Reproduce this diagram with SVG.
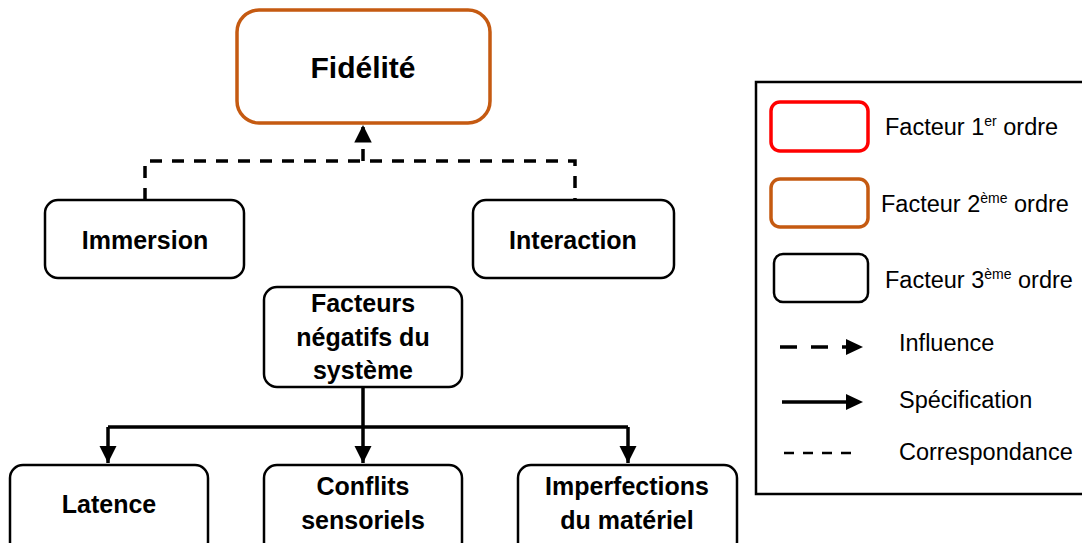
<svg xmlns="http://www.w3.org/2000/svg" width="1082" height="543" viewBox="0 0 1082 543">
<style>
.node{fill:#fff;stroke:#000;stroke-width:2.5}
.t{font-family:"Liberation Sans",Arial,sans-serif;font-weight:bold;font-size:25px;fill:#000;text-anchor:middle}
.big{font-size:30px}
.lg{font-family:"Liberation Sans",Arial,sans-serif;font-size:23.5px;fill:#000}
.sup{font-size:14px}
.dash{fill:none;stroke:#000;stroke-width:3.5;stroke-dasharray:12 10}
.solid{fill:none;stroke:#000;stroke-width:3.5}
</style>
<defs>
<marker id="ah" viewBox="0 0 10 10" refX="10" refY="5" markerWidth="5" markerHeight="5" markerUnits="strokeWidth" orient="auto">
<path d="M0,0 L10,5 L0,10 Z" fill="#000"/>
</marker>
</defs>
<rect width="1082" height="543" fill="#fff"/>
<g id="connectors">
<path class="dash" d="M145,200 V161 H575 V200"/>
<path class="dash" d="M363,161 V125" stroke-dasharray="12 6" marker-end="url(#ah)"/>
<path class="solid" d="M363,388 V427"/>
<path class="solid" d="M108,427 H628"/>
<path class="solid" d="M108,427 V463" marker-end="url(#ah)"/>
<path class="solid" d="M363,427 V463" marker-end="url(#ah)"/>
<path class="solid" d="M628,427 V463" marker-end="url(#ah)"/>
</g>
<g id="fidelite">
<rect x="237" y="10" width="253" height="113" rx="22" fill="#fff" stroke="#C55A11" stroke-width="3.5"/>
<text class="t big" x="363" y="78">Fidélité</text>
</g>
<g id="immersion">
<rect class="node" x="45" y="200" width="199" height="78" rx="13"/>
<text class="t" x="145" y="249">Immersion</text>
</g>
<g id="interaction">
<rect class="node" x="473" y="200" width="201" height="78" rx="13"/>
<text class="t" x="573" y="249">Interaction</text>
</g>
<g id="facteurs">
<rect class="node" x="264" y="287" width="198" height="100" rx="13"/>
<text class="t" x="363" y="312">Facteurs</text>
<text class="t" x="363" y="346">négatifs du</text>
<text class="t" x="363" y="379">système</text>
</g>
<g id="latence">
<rect class="node" x="10" y="465" width="198" height="90" rx="13"/>
<text class="t" x="109" y="513">Latence</text>
</g>
<g id="conflits">
<rect class="node" x="264" y="465" width="198" height="90" rx="13"/>
<text class="t" x="363" y="495">Conflits</text>
<text class="t" x="363" y="529">sensoriels</text>
</g>
<g id="imperfections">
<rect class="node" x="518" y="465" width="219" height="90" rx="13"/>
<text class="t" x="627" y="495">Imperfections</text>
<text class="t" x="627" y="529">du matériel</text>
</g>
<g id="legend">
<rect x="756" y="82" width="340" height="412" fill="#fff" stroke="#000" stroke-width="2.5"/>
<rect x="771" y="102" width="97" height="49" rx="9" fill="#fff" stroke="#FF0000" stroke-width="3.5"/>
<rect x="771" y="179" width="97" height="48" rx="9" fill="#fff" stroke="#C55A11" stroke-width="3.5"/>
<rect x="774" y="254" width="94" height="48" rx="9" fill="#fff" stroke="#000" stroke-width="2.5"/>
<text class="lg" x="885" y="135">Facteur 1<tspan class="sup" dy="-9">er</tspan><tspan dy="9"> ordre</tspan></text>
<text class="lg" x="881" y="212">Facteur 2<tspan class="sup" dy="-9">ème</tspan><tspan dy="9"> ordre</tspan></text>
<text class="lg" x="885" y="288">Facteur 3<tspan class="sup" dy="-9">ème</tspan><tspan dy="9"> ordre</tspan></text>
<path d="M780,347 H846" fill="none" stroke="#000" stroke-width="3.5" stroke-dasharray="17 14"/>
<path d="M846,339 L863,347 L846,355 Z" fill="#000"/>
<path d="M782,402 H846" fill="none" stroke="#000" stroke-width="3.5"/>
<path d="M846,394 L863,402 L846,410 Z" fill="#000"/>
<path d="M784,453 H858" fill="none" stroke="#000" stroke-width="2.5" stroke-dasharray="10 9"/>
<text class="lg" x="899" y="351">Influence</text>
<text class="lg" x="899" y="408">Spécification</text>
<text class="lg" x="899" y="460">Correspondance</text>
</g>
</svg>
